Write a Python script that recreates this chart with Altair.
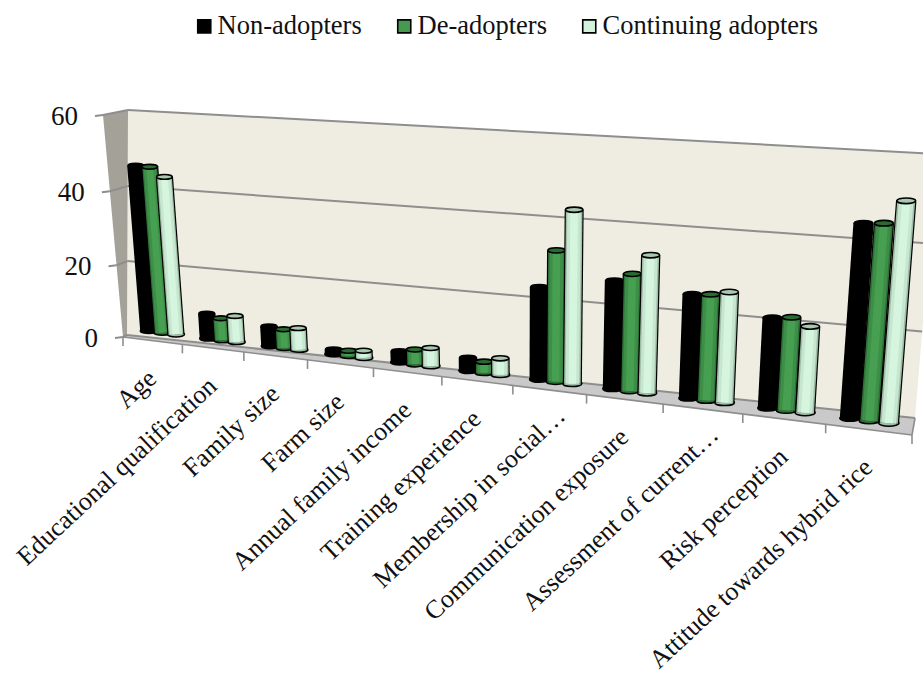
import altair as alt
import numpy as np
import pandas as pd

W, H = 923, 674
FONT = "Liberation Serif"

categories = ["Age", "Educational qualification", "Family size", "Farm size",
              "Annual family income", "Training experience", "Membership in social…",
              "Communication exposure", "Assessment of current…", "Risk perception",
              "Attitude towards hybrid rice"]
series_names = ["Non-adopters", "De-adopters", "Continuing adopters"]
non_adopters = [45.6, 6.9, 5.4, 1.2, 2.9, 3.4, 23.6, 27.0, 25.6, 21.9, 45.5]
de_adopters = [45.6, 6.1, 5.1, 1.4, 3.9, 2.9, 33.1, 29.1, 26.0, 22.5, 45.9]
continuing = [43.2, 7.2, 5.9, 1.9, 4.8, 4.3, 43.3, 34.0, 27.0, 20.8, 51.2]
y_ticks = [0, 20, 40, 60]

# Perspective planes of the 3-D box: corners for (u=0,v=0), (u=11,v=0), (u=0,v=60), (u=11,v=60)
FRONT = [(123, 337), (912, 435), (103, 115), (933, 165)]
MIDDLE = [(133, 329), (912, 426), (115, 110), (934, 162)]
BACK = [(127, 335), (915, 418), (128, 110), (937, 154)]


def homography(corners):
    src = [(0, 0), (11, 0), (0, 60), (11, 60)]
    A, b = [], []
    for (u, v), (x, y) in zip(src, corners):
        A.append([u, v, 1, 0, 0, 0, -u * x, -v * x])
        A.append([0, 0, 0, u, v, 1, -u * y, -v * y])
        b += [x, y]
    return np.append(np.linalg.solve(np.array(A, float), np.array(b, float)), 1).reshape(3, 3)


M_FRONT, M_MIDDLE, M_BACK = map(homography, (FRONT, MIDDLE, BACK))


def project(m, u, v):
    p = m @ np.array([u, v, 1.0])
    return p[0] / p[2], p[1] / p[2]


def area_rows(points):
    """Turn a convex outline into x / y / y2 rows for an area mark."""
    pts = np.array(points, float)
    rows = []
    for x in sorted(set(pts[:, 0])):
        ys = []
        for i in range(len(pts)):
            a, b = pts[i], pts[(i + 1) % len(pts)]
            lo, hi = min(a[0], b[0]), max(a[0], b[0])
            if lo <= x <= hi:
                if a[0] == b[0]:
                    ys += [a[1], b[1]]
                else:
                    ys.append(a[1] + (x - a[0]) / (b[0] - a[0]) * (b[1] - a[1]))
        rows.append({"x": x, "y": min(ys), "y2": max(ys)})
    return pd.DataFrame(rows)


X_SCALE = alt.Scale(domain=[0, W], range=[0, W])
Y_SCALE = alt.Scale(domain=[0, H], range=[0, H])
X = alt.X("x:Q", scale=X_SCALE, axis=None)
Y = alt.Y("y:Q", scale=Y_SCALE, axis=None)
X2 = alt.X2("x2:Q")
Y2 = alt.Y2("y2:Q")


def panel(points, color):
    return alt.Chart(area_rows(points)).mark_area(color=color, clip=True).encode(
        x=X, y=Y, y2=Y2)


def segments(rows, color, width):
    return alt.Chart(pd.DataFrame(rows)).mark_rule(color=color, strokeWidth=width, clip=True).encode(
        x=X, y=Y, x2=X2, y2=Y2)


def seg(a, b):
    return {"x": a[0], "y": a[1], "x2": b[0], "y2": b[1]}


# Box: back wall, side wall and floor
wall = panel([project(M_BACK, 0, 60), project(M_BACK, 11, 60), project(M_BACK, 11, 0), project(M_BACK, 0, 0)], "#efede1")
side = panel([project(M_FRONT, 0, 60), project(M_BACK, 0, 60), project(M_BACK, 0, 0), project(M_FRONT, 0, 0)], "#a3a198")
floor = panel([project(M_BACK, 0, 0), project(M_BACK, 11, 0), project(M_FRONT, 11, 0), project(M_FRONT, 0, 0)], "#c9c9c9")

grid_rows = []
for v in y_ticks:
    grid_rows.append(seg(project(M_BACK, 0, v), project(M_BACK, 11, v)))
    grid_rows.append(seg(project(M_FRONT, 0, v), project(M_BACK, 0, v)))
    fx, fy = project(M_FRONT, 0, v)
    grid_rows.append(seg((fx - 8, fy + 1), (fx, fy)))
grid = segments(grid_rows, "#8e8e8e", 2)

edge_rows = [seg(project(M_FRONT, 0, 0), project(M_FRONT, 11, 0)),
             seg(project(M_FRONT, 11, 0), project(M_BACK, 11, 0))]
for i in range(12):
    fx, fy = project(M_FRONT, i, 0)
    edge_rows.append(seg((fx, fy), (fx, fy + 9)))
edges = segments(edge_rows, "#8e8e8e", 1.6)

# Axis text
y_text = pd.DataFrame([{"x": project(M_FRONT, 0, v)[0] - 25, "y": project(M_FRONT, 0, v)[1] + 2, "t": str(v)} for v in y_ticks])
y_labels = alt.Chart(y_text).mark_text(font=FONT, fontSize=27, align="right", baseline="middle", color="#111111").encode(
    x=X, y=Y, text="t:N")

# Shortened labels run a little further along their slant, towards the tick
x_rows = []
for i, c in enumerate(categories):
    tx, ty = project(M_FRONT, i + 0.5, 0)
    extra = 12 if c.endswith("…") else 0
    x_rows.append({"x": tx + extra, "y": ty + 34 - extra, "t": c})
x_labels = alt.Chart(pd.DataFrame(x_rows)).mark_text(font=FONT, fontSize=26, align="right", baseline="middle", angle=317, color="#111111").encode(
    x=X, y=Y, text="t:N")

# Bars
OFFSETS = [-0.23, 0.0, 0.23]
rows = []
for s, (name, values, off) in enumerate(zip(series_names, [non_adopters, de_adopters, continuing], OFFSETS)):
    for i, val in enumerate(values):
        u = i + 0.5 + off
        x0, y0 = project(M_MIDDLE, u, 0)
        x1, y1 = project(M_MIDDLE, u, val)
        _, ya = project(M_MIDDLE, u, 0)
        _, yb = project(M_MIDDLE, u, 60)
        w = 0.0776 * (ya - yb)
        rows.append({"series": name, "x": x0, "y": y0, "x2": x1, "y2": y1, "w": w, "s": w * w,
                     "w_edge": w - 2.4, "w_mid": w * 0.72, "w_core": w * 0.4,
                     "s_in": (w - 1.5) ** 2})
bars = pd.DataFrame(rows)

ELLIPSE = "M-1,0A1,0.3,0,1,1,1,0A1,0.3,0,1,1,-1,0Z"
STYLES = {
    "Non-adopters": ("#000000", "#000000", "#000000", "#000000"),
    "De-adopters": ("#2f7238", "#3d8f47", "#479f51", "#2a6a33"),
    "Continuing adopters": ("#9fbca7", "#c6e6cf", "#d5f5de", "#a8c8b0"),
}
FILL_COLORS = ["#000000", "#459a50", "#d3f2dc"]

legend_carrier = alt.Chart(bars).mark_square(size=2).encode(
    x=X, y=Y,
    fill=alt.Fill("series:N", title=None,
                  scale=alt.Scale(domain=series_names, range=FILL_COLORS),
                  legend=alt.Legend(orient="none", legendX=191, legendY=13, direction="horizontal",
                                    symbolType="square", symbolSize=170, symbolStrokeColor="#000000",
                                    symbolStrokeWidth=1.6, labelFont=FONT, labelFontSize=26.5,
                                    labelColor="#111111", labelOffset=0, columnPadding=29,
                                    labelLimit=300, symbolOpacity=1)))

bar_layers = [legend_carrier]
for name in series_names:
    edge, mid, core, rim = STYLES[name]
    d = bars[bars["series"] == name]
    base = alt.Chart(d)
    bar_layers.append(base.mark_point(shape=ELLIPSE, filled=True, fill=edge, stroke="#000000", strokeWidth=1.5, opacity=1).encode(
        x=X, y=Y, size=alt.Size("s:Q", scale=None, legend=None)))
    bar_layers.append(base.mark_rule(color="#000000").encode(x=X, y=Y, x2=X2, y2=Y2, size=alt.Size("w:Q", scale=None, legend=None)))
    for col, field in ((edge, "w_edge"), (mid, "w_mid"), (core, "w_core")):
        bar_layers.append(base.mark_rule(color=col).encode(x=X, y=Y, x2=X2, y2=Y2,
                                                           size=alt.Size(f"{field}:Q", scale=None, legend=None)))
    bar_layers.append(base.mark_point(shape=ELLIPSE, filled=True, fill=rim, stroke="#000000", strokeWidth=1.6, opacity=1).encode(
        x=alt.X("x2:Q", scale=X_SCALE, axis=None), y=alt.Y("y2:Q", scale=Y_SCALE, axis=None),
        size=alt.Size("s_in:Q", scale=None, legend=None)))

chart = alt.layer(wall, side, floor, grid, edges, *bar_layers, y_labels, x_labels).properties(
    width=W, height=H, padding=0, background="#ffffff",
    autosize=alt.AutoSizeParams(type="none"),
).configure_view(stroke=None)

chart.save("out.html", embed_options={"renderer": "svg", "actions": False})
